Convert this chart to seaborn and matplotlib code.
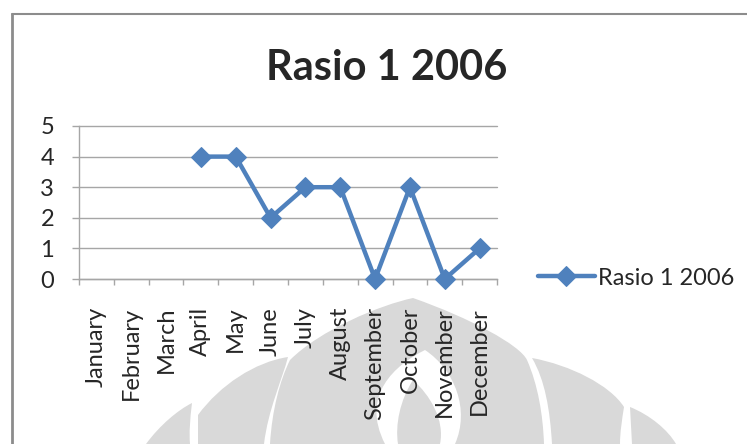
import numpy as np
import pandas as pd
import seaborn as sns
import matplotlib.pyplot as plt
from matplotlib.lines import Line2D
from matplotlib.patches import PathPatch
from matplotlib.path import Path

# ---- data -----------------------------------------------------------
months = ["January", "February", "March", "April", "May", "June",
          "July", "August", "September", "October", "November", "December"]
rasio_values = [np.nan, np.nan, np.nan, 4, 4, 2, 3, 3, 0, 3, 0, 1]
series_name = "Rasio 1 2006"
chart_title = "Rasio 1 2006"
y_ticks = [0, 1, 2, 3, 4, 5]

LINE_BLUE = "#4F81BD"
GRID_GRAY = "#a6a6a6"
TEXT_COLOR = "#262626"
MARK_GRAY = "#d9d9d9"

sns.set_theme(style="white")
plt.rcParams["font.family"] = ["Lato", "DejaVu Sans"]

W, H = 747, 444
fig = plt.figure(figsize=(W / 100, H / 100), dpi=100)
fig.patch.set_facecolor("white")

# ---- faint emblem in the lower background (pixel space, y downward) --
bg = fig.add_axes([0, 0, 1, 1], zorder=0)
bg.set_xlim(0, W)
bg.set_ylim(H, 0)
bg.axis("off")

M, C, L, Z = Path.MOVETO, Path.CURVE4, Path.LINETO, Path.CLOSEPOLY


def shape(parts, color):
    verts, codes = [], []
    for code, pts in parts:
        for p in pts:
            verts.append(p)
            codes.append(code)
    verts.append(verts[0])
    codes.append(Z)
    bg.add_patch(PathPatch(Path(verts, codes), facecolor=color,
                           edgecolor="none"))


# central petal
shape([(M, [(413, 298)]),
       (C, [(470, 318), (520, 345), (527, 360)]),
       (C, [(538, 385), (543, 415), (544, 444)]),
       (L, [(270, 444)]),
       (C, [(272, 410), (280, 380), (290, 360)]),
       (C, [(320, 330), (380, 305), (413, 298)])], MARK_GRAY)
# opening inside the central petal
shape([(M, [(425, 350)]),
       (C, [(395, 365), (360, 395), (385, 444)]),
       (L, [(455, 444)]),
       (C, [(470, 410), (455, 370), (425, 350)])], "white")
# inner flame
shape([(M, [(413, 380)]),
       (C, [(400, 400), (395, 425), (398, 444)]),
       (L, [(440, 444)]),
       (C, [(445, 420), (430, 395), (413, 380)])], MARK_GRAY)
# left petals
shape([(M, [(198, 444)]), (L, [(198, 415)]),
       (C, [(220, 385), (255, 362), (288, 357)]),
       (C, [(282, 380), (268, 410), (264, 444)])], MARK_GRAY)
shape([(M, [(146, 444)]),
       (C, [(160, 425), (178, 410), (192, 403)]),
       (C, [(190, 420), (189, 432), (190, 444)])], MARK_GRAY)
# right petals
shape([(M, [(532, 358)]),
       (C, [(570, 365), (610, 385), (624, 407)]),
       (C, [(622, 420), (620, 432), (620, 444)]),
       (L, [(552, 444)]),
       (C, [(550, 410), (545, 380), (532, 358)])], MARK_GRAY)
shape([(M, [(630, 407)]),
       (C, [(650, 415), (668, 430), (676, 444)]),
       (L, [(632, 444)])], MARK_GRAY)

# ---- chart frame lines ----------------------------------------------
frame_color = "#8c8c8c"
fig.add_artist(Line2D([12 / W, 12 / W], [0, 1 - 14 / H],
                      transform=fig.transFigure, color=frame_color, lw=2))
fig.add_artist(Line2D([12 / W, 1], [1 - 14 / H, 1 - 14 / H],
                      transform=fig.transFigure, color=frame_color, lw=1.5))

# ---- plot area ------------------------------------------------------
left, right, top, bottom = 79, 497, 126, 279
ax = fig.add_axes([left / W, 1 - bottom / H, (right - left) / W,
                   (bottom - top) / H], zorder=2)
ax.patch.set_alpha(0)

df = pd.DataFrame({"pos": np.arange(len(months)), "value": rasio_values})
sns.lineplot(data=df, x="pos", y="value", ax=ax, color=LINE_BLUE,
             linewidth=3.2, marker="D", markersize=10,
             markeredgecolor=LINE_BLUE, markerfacecolor=LINE_BLUE,
             label=series_name)
for ln in ax.lines:
    ln.set_clip_on(False)
    ln.set_zorder(5)

ax.set_xlim(-0.5, len(months) - 0.5)
ax.set_ylim(0, 5)
ax.set_xlabel("")
ax.set_ylabel("")

ax.set_yticks(y_ticks)
ax.set_yticklabels([str(t) for t in y_ticks])
ax.yaxis.grid(True, color=GRID_GRAY, linewidth=1)
ax.xaxis.grid(False)
for gl in ax.get_ygridlines():
    gl.set_clip_on(False)

ax.set_xticks(np.arange(len(months)))
ax.set_xticklabels(months, rotation=90)
ax.set_xticks(np.arange(len(months) + 1) - 0.5, minor=True)

ax.tick_params(axis="y", which="major", direction="out", length=5,
               width=1, color=GRID_GRAY, pad=13, labelsize=17,
               labelcolor=TEXT_COLOR, left=True)
ax.tick_params(axis="x", which="major", length=0, pad=20, labelsize=17,
               labelcolor=TEXT_COLOR, bottom=True)
ax.tick_params(axis="x", which="minor", direction="out", length=4.5,
               width=1, color=GRID_GRAY, bottom=True)

for side in ("top", "right"):
    ax.spines[side].set_visible(False)
for side in ("left", "bottom"):
    ax.spines[side].set_color(GRID_GRAY)
    ax.spines[side].set_linewidth(1)

leg = ax.legend(loc="center left", bbox_to_anchor=(538 / W, 1 - 278 / H),
                bbox_transform=fig.transFigure, frameon=False,
                fontsize=17, handlelength=2.4, handletextpad=0.15,
                borderpad=0, borderaxespad=0, labelcolor=TEXT_COLOR)

fig.text(387 / W, 1 - 80 / H, chart_title, ha="center", va="baseline",
         fontsize=30, fontweight="bold", color=TEXT_COLOR)

fig.savefig("out.png", dpi=100)
